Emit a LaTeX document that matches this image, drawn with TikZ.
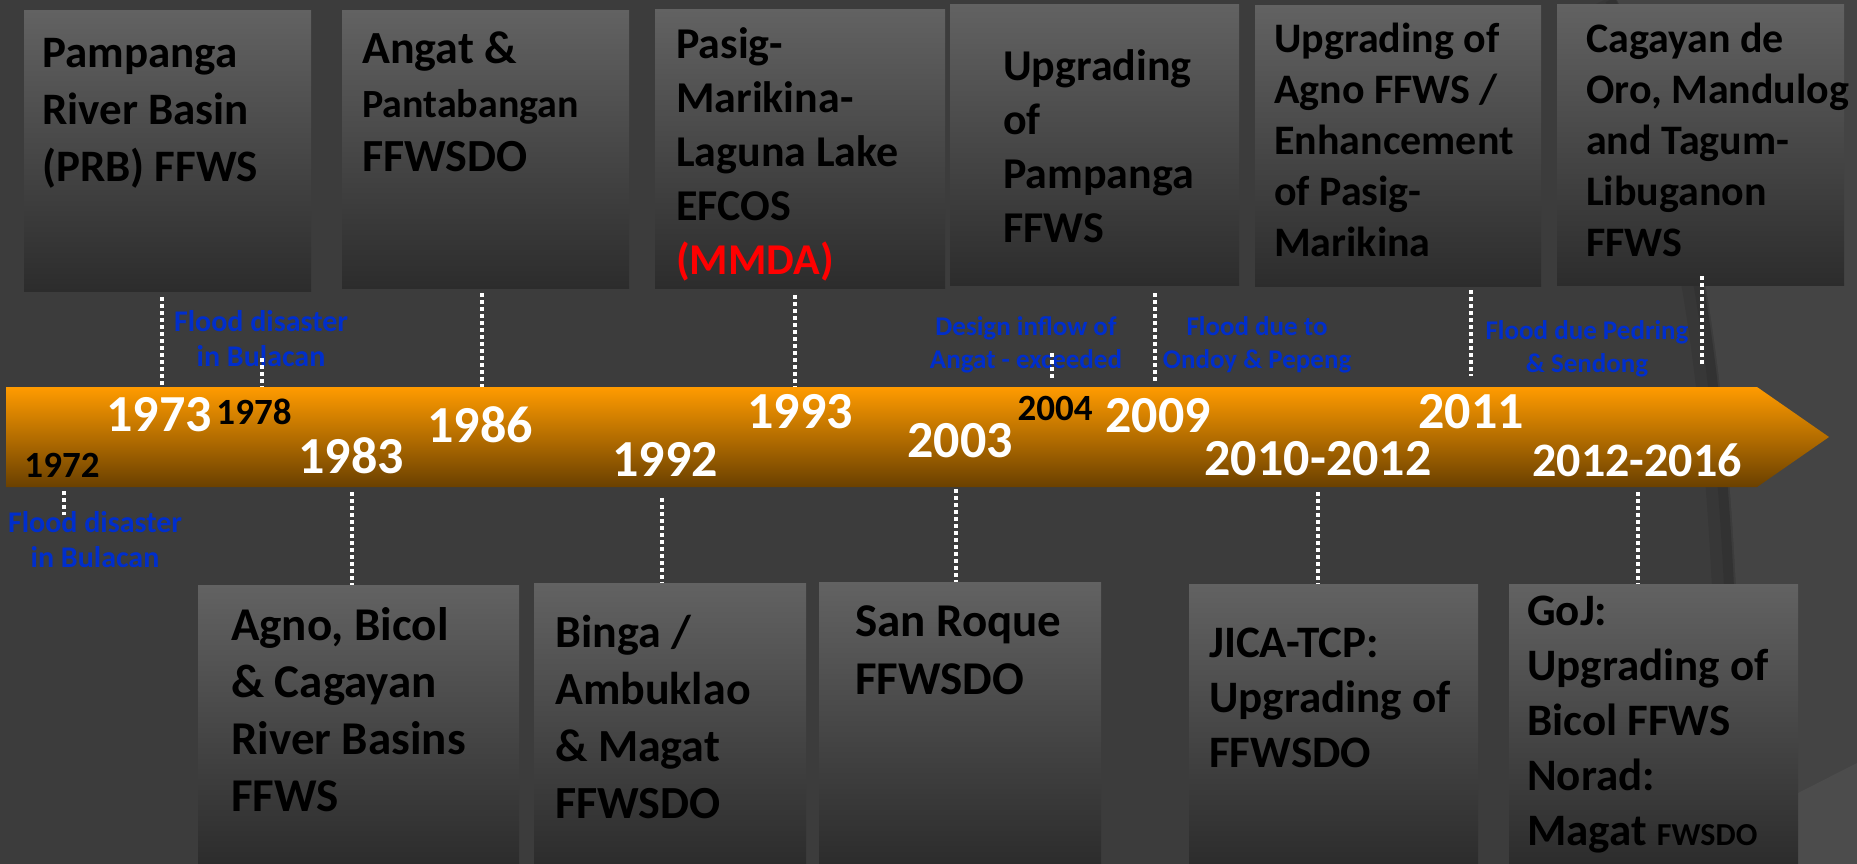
\documentclass[tikz,border=0pt]{standalone}
\usepackage{fontspec}
\setmainfont{Carlito}
\usepackage{tikz}
\usetikzlibrary{positioning}
\definecolor{slidebg}{RGB}{60,60,60}
\definecolor{slidebgr}{RGB}{68,68,68}
\definecolor{slidewedge}{RGB}{76,76,76}
\definecolor{boxtop}{RGB}{98,98,98}
\definecolor{boxbot}{RGB}{44,44,44}
\definecolor{bandtop}{RGB}{255,155,0}
\definecolor{bandmid}{RGB}{212,126,0}
\definecolor{bandbot}{RGB}{106,64,0}
\definecolor{eventblue}{RGB}{0,46,204}
\definecolor{mmdared}{RGB}{255,0,0}

\begin{document}
\begin{tikzpicture}[
  x=1pt,y=-1pt,
  font=\bfseries,
  card/.style={shading=axis,top color=boxtop,bottom color=boxbot,draw=none,inner sep=0pt,anchor=north west},
  boxtext/.style 2 args={anchor=north west,align=left,inner sep=0pt,text=black,font=\bfseries\fontsize{#1}{#2}\selectfont},
  yr/.style={inner sep=0pt,text=white,font=\bfseries\fontsize{52}{60}\selectfont},
  yrsmall/.style={inner sep=0pt,text=black,font=\bfseries\fontsize{37}{44}\selectfont},
  event/.style={anchor=north,align=center,inner sep=0pt,text=eventblue,font=\bfseries\fontsize{27}{33}\selectfont},
  bigevent/.style={event,font=\bfseries\fontsize{30}{35}\selectfont},
  tie/.style={white,line width=3.5pt,dash pattern=on 3.5pt off 3.5pt},
]
\useasboundingbox (0,0) rectangle (1857,864);
\fill[slidebg] (0,0) rectangle (1857,864);
% slide theme, right side
\fill[slidebgr] (1617,0) .. controls (1705,170) and (1742,420) .. (1742,864) -- (1857,864) -- (1857,0) -- cycle;
\draw[black,opacity=0.08,line width=22pt] (1604,0) .. controls (1692,170) and (1729,420) .. (1729,864);
\draw[black,opacity=0.08,line width=10pt] (1610,0) .. controls (1698,170) and (1735,420) .. (1735,864);
\fill[slidewedge] (1798,793) -- (1857,763) -- (1857,864) -- (1798,864) -- cycle;

% upper cards
\node[card,minimum width=287pt,minimum height=281pt] (prb) at (24,10) {};
\node[card,minimum width=287pt,minimum height=278pt] (angat) at (342,10) {};
\node[card,minimum width=290pt,minimum height=279pt] (efcos) at (655,9) {};
\node[card,minimum width=289pt,minimum height=281pt] (uppam) at (950,4) {};
\node[card,minimum width=286pt,minimum height=281pt] (upagno) at (1255,5) {};
\node[card,minimum width=287pt,minimum height=281pt] (cdo) at (1557,4) {};

\node[boxtext={45}{57},below right=17pt and 18pt of prb.north west] (prbT) {\strut Pampanga\\River Basin\\(PRB) FFWS};
\node[boxtext={46}{54},below right=16pt and 20pt of angat.north west] (angatT) {\strut Angat \&\\{\fontsize{40}{54}\selectfont Pantabangan}\\FFWSDO};
\node[boxtext={44}{54},below right=11pt and 21pt of efcos.north west] (efcosT) {\strut Pasig-\\Marikina-\\Laguna Lake\\EFCOS\\\textcolor{mmdared}{(MMDA)}};
\node[boxtext={44}{54},below right=38pt and 53pt of uppam.north west] (uppamT) {\strut Upgrading\\of\\Pampanga\\FFWS};
\node[boxtext={42}{51},below right=12pt and 19pt of upagno.north west] (upagnoT) {\strut Upgrading of\\Agno FFWS /\\Enhancement\\of Pasig-\\Marikina};
\node[boxtext={42}{51},below right=13pt and 29pt of cdo.north west] (cdoT) {\strut Cagayan de\\Oro, Mandulog\\and Tagum-\\Libuganon\\FFWS};

% lower cards
\node[card,minimum width=321pt,minimum height=279pt] (rivers) at (198,585) {};
\node[card,minimum width=272pt,minimum height=281pt] (binga) at (534,583) {};
\node[card,minimum width=282pt,minimum height=282pt] (roque) at (819,582) {};
\node[card,minimum width=289pt,minimum height=280pt] (jica) at (1189,584) {};
\node[card,minimum width=289pt,minimum height=280pt] (goj) at (1509,584) {};

\node[boxtext={47}{57},below right=15pt and 33pt of rivers.north west] (riversT) {\strut Agno, Bicol\\\& Cagayan\\River Basins\\FFWS};
\node[boxtext={46}{57},below right=24pt and 21pt of binga.north west] (bingaT) {\strut Binga /\\Ambuklao\\\& Magat\\FFWSDO};
\node[boxtext={47}{58},below right=14pt and 36pt of roque.north west] (roqueT) {\strut San Roque\\FFWSDO};
\node[boxtext={45}{55},below right=35pt and 20pt of jica.north west] (jicaT) {\strut JICA-TCP:\\Upgrading of\\FFWSDO};
\node[boxtext={45}{55},below right=3pt and 18pt of goj.north west] (gojT) {\strut GoJ:\\Upgrading of\\Bicol FFWS\\Norad:\\Magat {\fontsize{32}{55}\selectfont FWSDO}};

% time band
\path[top color=bandtop,middle color=bandmid,bottom color=bandbot] (6,387) -- (1757,387) -- (1829,437) -- (1757,487) -- (6,487) -- cycle;

% years
\node[yrsmall] (y1972) at (62,465) {1972};
\node[yr] (y1973) at (159,415) {1973};
\node[yrsmall] (y1978) at (254,412) {1978};
\node[yr] (y1983) at (351,456) {1983};
\node[yr] (y1986) at (480,425) {1986};
\node[yr] (y1992) at (665,459) {1992};
\node[yr] (y1993) at (800,412) {1993};
\node[yr] (y2003) at (960,441) {2003};
\node[yrsmall] (y2004) at (1055,408) {2004};
\node[yr] (y2009) at (1158,416) {2009};
\node[yr] (y2010) at (1318,459) {2010-2012};
\node[yr] (y2011) at (1471,412) {2011};
\node[yr,font=\bfseries\fontsize{48}{56}\selectfont] (y2012) at (1637,460) {2012-2016};

% flood events
\node[bigevent] (ev78) at (261,307) {\strut Flood disaster\\in Bulacan};
\node[bigevent] (ev72) at (95,508) {\strut Flood disaster\\in Bulacan};
\node[event] (ev04) at (1026,312) {\strut Design inflow of\\Angat - exceeded};
\node[event] (ev09) at (1257,312) {\strut Flood due to\\Ondoy \& Pepeng};
\node[event] (ev11) at (1587,316) {\strut Flood due Pedring\\\& Sendong};

% ties to the band
\coordinate (u73) at (162,387);
\coordinate (u78) at (262,387);
\coordinate (u86) at (482,387);
\coordinate (u93) at (795,387);
\coordinate (u04) at (1052,380);
\coordinate (u09) at (1155,383);
\coordinate (u11) at (1471,376);
\coordinate (u16) at (1702,366);
\coordinate (l72) at (64,491);
\coordinate (l83) at (352,492);
\coordinate (l92) at (662,498);
\coordinate (l03) at (956,489);
\coordinate (l10) at (1318,492);
\coordinate (l16) at (1638,492);

\draw[tie] (prb.south -| u73) ++(0,6) -- (u73);
\draw[tie] (ev78.south -| u78) ++(0,-9) -- (u78);
\draw[tie] (angat.south -| u86) ++(0,5) -- (u86);
\draw[tie] (efcos.south -| u93) ++(0,7) -- (u93);
\draw[tie] (ev04.south -| u04) ++(0,-20) -- (u04);
\draw[tie] (uppam.south -| u09) ++(0,8) -- (u09);
\draw[tie] (upagno.south -| u11) ++(0,4) -- (u11);
\draw[tie] (cdo.south -| u16) ++(0,-9) -- (u16);
\draw[tie] (l72) -- (ev72.north -| l72) -- ++(0,7);
\draw[tie] (l83) -- (rivers.north -| l83);
\draw[tie] (l92) -- (binga.north -| l92);
\draw[tie] (l03) -- (roque.north -| l03);
\draw[tie] (l10) -- (jica.north -| l10);
\draw[tie] (l16) -- (goj.north -| l16);
\end{tikzpicture}
\end{document}
